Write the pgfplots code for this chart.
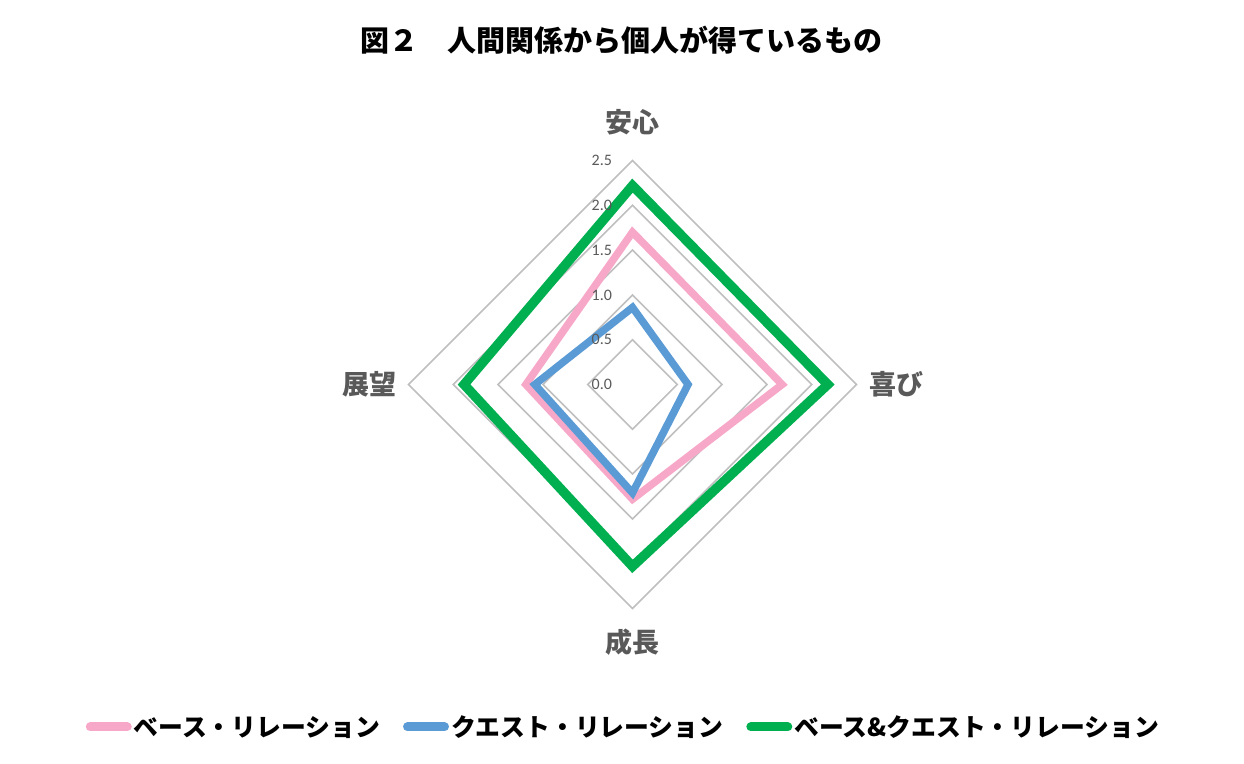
\documentclass[border=0pt]{standalone}
\usepackage{fontspec}
\setmainfont{Noto Sans CJK JP}
\newfontfamily\tickfont{Carlito}
\usepackage{pgfplots}
\pgfplotsset{compat=1.18}
\definecolor{pinkc}{HTML}{F7A8C8}
\definecolor{bluec}{HTML}{5B9BD5}
\definecolor{greenc}{HTML}{00B050}
\definecolor{gridc}{HTML}{BFBFBF}
\definecolor{labc}{HTML}{595959}
\begin{document}
\begin{tikzpicture}
\path[use as bounding box] (0pt,0pt) rectangle (1244pt,763pt);
\node[font=\fontsize{29}{33}\selectfont\bfseries] at (621pt,723pt) {図２　人間関係から個人が得ているもの};
\begin{axis}[
  at={(632.5pt,378.5pt)}, anchor=center,
  scale only axis, width=448pt, height=448pt,
  xmin=-2.5, xmax=2.5, ymin=-2.5, ymax=2.5,
  hide axis, clip=false,
  legend columns=3,
  legend style={at={(0.4796,-0.2645)}, anchor=center, draw=none, fill=none,
    font=\fontsize{24.8}{29}\selectfont\bfseries,
    /tikz/every even column/.append style={column sep=21pt},
    cells={anchor=west, inner xsep=1pt}},
  legend image code/.code={\draw[#1, line width=9pt, line cap=round] (0pt,0pt) -- (37pt,0pt);},
]
% grid diamonds
\addplot[gridc, line width=1.6pt, line join=miter, forget plot] coordinates {(0,0.5) (0.5,0) (0,-0.5) (-0.5,0)} -- cycle;
\addplot[gridc, line width=1.6pt, line join=miter, forget plot] coordinates {(0,1.0) (1.0,0) (0,-1.0) (-1.0,0)} -- cycle;
\addplot[gridc, line width=1.6pt, line join=miter, forget plot] coordinates {(0,1.5) (1.5,0) (0,-1.5) (-1.5,0)} -- cycle;
\addplot[gridc, line width=1.6pt, line join=miter, forget plot] coordinates {(0,2.0) (2.0,0) (0,-2.0) (-2.0,0)} -- cycle;
\addplot[gridc, line width=1.6pt, line join=miter, forget plot] coordinates {(0,2.5) (2.5,0) (0,-2.5) (-2.5,0)} -- cycle;
% series: (0,安心) (喜び,0) (0,-成長) (-展望,0)
\addplot[pinkc, line width=7.5pt, line join=miter] coordinates {(0,1.70) (1.67,0) (0,-1.28) (-1.19,0)} -- cycle;
\addlegendentry{ベース・リレーション}
\addplot[bluec, line width=7.5pt, line join=miter] coordinates {(0,0.86) (0.62,0) (0,-1.21) (-1.09,0)} -- cycle;
\addlegendentry{クエスト・リレーション}
\addplot[greenc, line width=9.5pt, line join=miter] coordinates {(0,2.22) (2.18,0) (0,-2.03) (-1.88,0)} -- cycle;
\addlegendentry{ベース\&クエスト・リレーション}
% tick labels
\node[anchor=east, font=\tickfont\fontsize{16}{19}\selectfont, text=labc, xshift=-17pt] at (axis cs:0,0) {0.0};
\node[anchor=east, font=\tickfont\fontsize{16}{19}\selectfont, text=labc, xshift=-17pt] at (axis cs:0,0.5) {0.5};
\node[anchor=east, font=\tickfont\fontsize{16}{19}\selectfont, text=labc, xshift=-17pt] at (axis cs:0,1.0) {1.0};
\node[anchor=east, font=\tickfont\fontsize{16}{19}\selectfont, text=labc, xshift=-17pt] at (axis cs:0,1.5) {1.5};
\node[anchor=east, font=\tickfont\fontsize{16}{19}\selectfont, text=labc, xshift=-17pt] at (axis cs:0,2.0) {2.0};
\node[anchor=east, font=\tickfont\fontsize{16}{19}\selectfont, text=labc, xshift=-17pt] at (axis cs:0,2.5) {2.5};
% category labels
\node[font=\fontsize{27}{31}\selectfont\bfseries, text=labc] at (axis cs:0,2.93) {安心};
\node[font=\fontsize{27}{31}\selectfont\bfseries, text=labc] at (axis cs:2.95,0) {喜び};
\node[font=\fontsize{27}{31}\selectfont\bfseries, text=labc] at (axis cs:0,-2.88) {成長};
\node[font=\fontsize{27}{31}\selectfont\bfseries, text=labc] at (axis cs:-2.94,0) {展望};
\end{axis}
\end{tikzpicture}
\end{document}
